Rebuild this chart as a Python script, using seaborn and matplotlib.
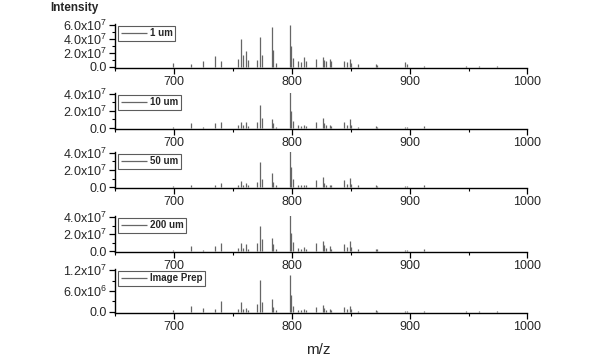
import matplotlib
matplotlib.use("Agg")
import matplotlib.pyplot as plt
import seaborn as sns
from matplotlib.ticker import FuncFormatter, MultipleLocator

# m/z positions of the peaks (shared by all five spectra)
mz = [699.0, 714.5, 724.3, 735.0, 740.1, 754.0, 757.0, 758.7, 761.3, 763.0,
      770.0, 772.9, 774.3, 782.8, 784.2, 786.4, 798.6, 799.4, 800.8, 804.8,
      807.6, 810.4, 811.9, 820.6, 826.5, 827.7, 829.4, 832.4, 833.6, 844.3,
      846.6, 849.2, 850.5, 856.2, 871.2, 872.6, 896.0, 897.4, 912.0, 947.5,
      958.7, 974.0]

# intensities
int_1um = [0.6e7, 0.5e7, 0.9e7, 1.6e7, 0.9e7, 1.2e7, 4.0e7, 1.8e7, 2.3e7, 1.0e7,
           1.0e7, 4.3e7, 1.8e7, 5.8e7, 2.5e7, 0.6e7, 6.0e7, 3.0e7, 1.3e7, 0.9e7,
           0.7e7, 1.5e7, 0.8e7, 1.1e7, 1.5e7, 1.0e7, 0.8e7, 1.1e7, 0.8e7, 0.85e7,
           0.7e7, 1.1e7, 0.6e7, 0.4e7, 0.4e7, 0.3e7, 0.7e7, 0.4e7, 0.2e7, 0.15e7,
           0.2e7, 0.1e7]
int_10um = [0.15e7, 0.55e7, 0.15e7, 0.55e7, 0.7e7, 0.3e7, 0.7e7, 0.3e7, 0.7e7, 0.2e7,
            0.65e7, 2.75e7, 1.2e7, 1.1e7, 0.55e7, 0.15e7, 4.3e7, 2.0e7, 0.8e7, 0.3e7,
            0.2e7, 0.35e7, 0.2e7, 0.7e7, 1.2e7, 0.55e7, 0.3e7, 0.4e7, 0.2e7, 0.7e7,
            0.4e7, 1.0e7, 0.4e7, 0.15e7, 0.25e7, 0.15e7, 0.15e7, 0.1e7, 0.2e7, 0.05e7,
            0.05e7, 0.05e7]
int_50um = [0.1e7, 0.2e7, 0.05e7, 0.3e7, 0.5e7, 0.3e7, 0.7e7, 0.3e7, 0.5e7, 0.2e7,
            0.55e7, 2.9e7, 1.0e7, 1.7e7, 0.6e7, 0.2e7, 4.3e7, 2.4e7, 0.9e7, 0.3e7,
            0.2e7, 0.3e7, 0.2e7, 0.8e7, 1.2e7, 0.5e7, 0.3e7, 0.3e7, 0.2e7, 0.8e7,
            0.4e7, 1.05e7, 0.4e7, 0.2e7, 0.3e7, 0.15e7, 0.15e7, 0.1e7, 0.25e7, 0.05e7,
            0.05e7, 0.05e7]
int_200um = [0.1e7, 0.65e7, 0.1e7, 0.65e7, 0.95e7, 0.4e7, 0.95e7, 0.4e7, 0.85e7, 0.3e7,
             1.0e7, 2.95e7, 1.45e7, 1.5e7, 0.85e7, 0.2e7, 4.4e7, 2.15e7, 1.05e7, 0.4e7,
             0.3e7, 0.5e7, 0.3e7, 1.0e7, 1.2e7, 0.75e7, 0.4e7, 0.55e7, 0.3e7, 0.85e7,
             0.5e7, 1.2e7, 0.5e7, 0.2e7, 0.3e7, 0.2e7, 0.15e7, 0.1e7, 0.2e7, 0.05e7,
             0.05e7, 0.05e7]
int_prep = [0.5e6, 1.75e6, 1.0e6, 0.8e6, 3.0e6, 0.8e6, 2.9e6, 0.8e6, 1.2e6, 0.5e6,
            2.2e6, 9.1e6, 2.7e6, 3.7e6, 1.3e6, 0.5e6, 10.7e6, 4.7e6, 1.8e6, 0.6e6,
            0.5e6, 0.8e6, 0.4e6, 1.5e6, 2.0e6, 1.0e6, 0.5e6, 0.7e6, 0.4e6, 1.5e6,
            0.8e6, 1.8e6, 0.7e6, 0.3e6, 0.4e6, 0.2e6, 0.3e6, 0.2e6, 0.2e6, 0.1e6,
            0.1e6, 0.1e6]

labels = ["1 um", "10 um", "50 um", "200 um", "Image Prep"]
series = [int_1um, int_10um, int_50um, int_200um, int_prep]
y_ticks = [[0, 2e7, 4e7, 6e7], [0, 2e7, 4e7], [0, 2e7, 4e7], [0, 2e7, 4e7], [0, 6e6, 1.2e7]]
x_ticks = [700, 800, 900, 1000]

sns.set_style("ticks")
plt.rcParams['font.family'] = ['Liberation Sans', 'DejaVu Sans']
plt.rcParams['mathtext.fontset'] = 'custom'
plt.rcParams['mathtext.rm'] = 'Liberation Sans'


def sci_fmt(v, pos):
    if v == 0:
        return "0.0"
    exp = len(str(int(v))) - 1
    return f"{v / 10**exp:.1f}x10$^{{{exp}}}$"


fig = plt.figure(figsize=(6, 3.6), dpi=100)
# (bottom, height) of each panel in figure fraction
rows = [(0.811, 0.122), (0.642, 0.100), (0.478, 0.100), (0.300, 0.100), (0.131, 0.122)]
line_col = "#666666"

for i, (lab, vals) in enumerate(zip(labels, series)):
    b, h = rows[i]
    ax = fig.add_axes([0.192, b, 0.687, h])
    ax.vlines(mz, 0, vals, color=line_col, lw=0.9, label=lab)
    top = y_ticks[i][-1]
    ax.set_xlim(650, 1000)
    ax.set_ylim(-0.025 * top, top * 1.03)
    ax.set_xticks(x_ticks)
    ax.xaxis.set_minor_locator(MultipleLocator(50))
    ax.set_yticks(y_ticks[i])
    ax.yaxis.set_minor_locator(MultipleLocator(y_ticks[i][1] / 2))
    ax.yaxis.set_major_formatter(FuncFormatter(sci_fmt))
    ax.tick_params(which='major', length=4, width=0.9, labelsize=9, pad=2, color='black')
    ax.tick_params(which='minor', length=2.5, width=0.8, color='black')
    for s in ['left', 'bottom']:
        ax.spines[s].set_linewidth(1.0)
        ax.spines[s].set_color('black')
    sns.despine(ax=ax)
    leg = ax.legend(loc='upper left', bbox_to_anchor=(0.003, 1.0), frameon=True,
                    fancybox=False, edgecolor='#333333', handlelength=2.7,
                    handletextpad=0.3, borderpad=0.25, borderaxespad=0.2,
                    prop={'size': 7, 'weight': 'bold'})
    leg.get_frame().set_linewidth(0.8)

fig.text(0.083, 0.978, "Intensity", fontsize=8.5, weight='bold', va='center', ha='left')
fig.text(0.53, 0.028, "m/z", fontsize=11, va='center', ha='center')

fig.savefig("out.png", dpi=100)
